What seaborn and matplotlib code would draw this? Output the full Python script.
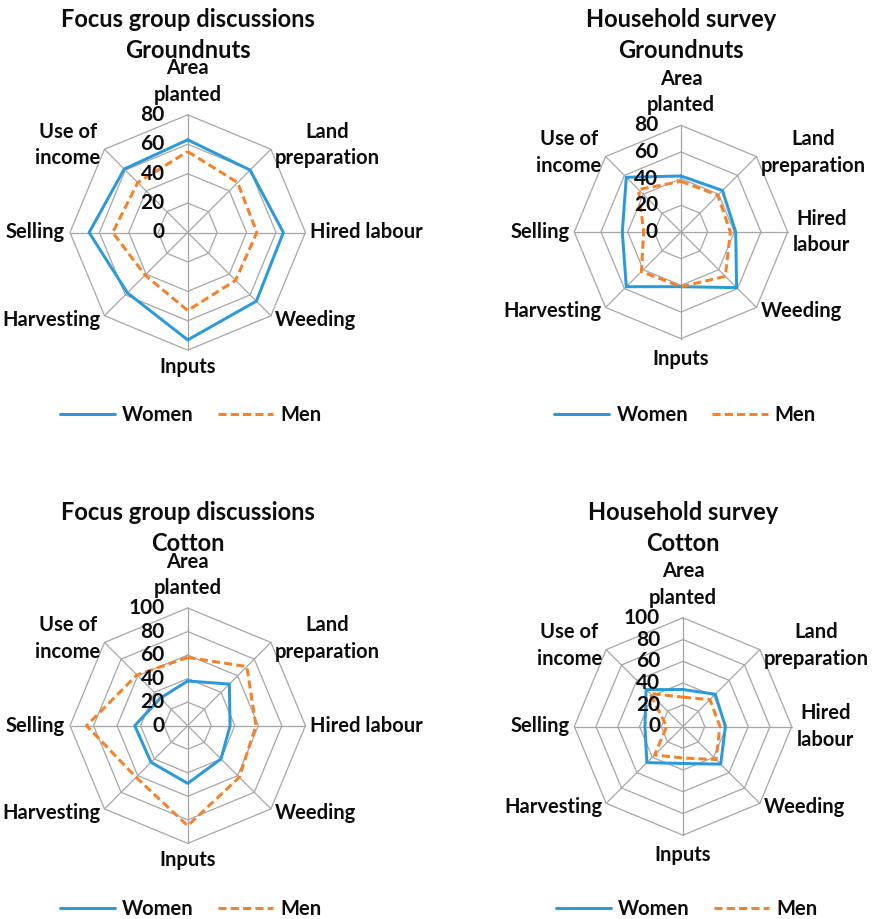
import numpy as np
import pandas as pd
import matplotlib
matplotlib.use("Agg")
import matplotlib.pyplot as plt
import seaborn as sns

# Activity categories (clockwise from the top)
categories_fgd = ["Area\nplanted", "Land\npreparation", "Hired labour", "Weeding",
                  "Inputs", "Harvesting", "Selling", "Use of\nincome"]
categories_hh = ["Area\nplanted", "Land\npreparation", "Hired\nlabour", "Weeding",
                 "Inputs", "Harvesting", "Selling", "Use of\nincome"]

# Share of participation (%) by activity
fgd_groundnut_women = [63, 60, 65, 66, 73, 58, 67, 61]
fgd_groundnut_men = [55, 48, 47, 46, 53, 41, 51, 48]
hh_groundnut_women = [42, 44, 41, 59, 41, 58, 44, 58]
hh_groundnut_men = [38, 39, 37, 47, 41, 42, 28, 45]
fgd_cotton_women = [38, 50, 36, 40, 49, 44, 45, 33]
fgd_cotton_men = [58, 71, 58, 62, 85, 62, 86, 61]
hh_cotton_women = [34, 42, 39, 49, 34, 47, 35, 48]
hh_cotton_men = [27, 35, 34, 43, 29, 37, 15, 43]

ticks_groundnut = [0, 20, 40, 60, 80]
ticks_cotton = [0, 20, 40, 60, 80, 100]

series_names = ["Women", "Men"]

sns.set_theme(style="white")
plt.rcParams["font.family"] = ["Lato", "DejaVu Sans"]
plt.rcParams["font.weight"] = "bold"

W, H = 872, 919
fig = plt.figure(figsize=(W / 100, H / 100), dpi=100)

BLUE = "#2c9ad8"
ORANGE = "#f5822a"
GRID = "#a6a6a6"
TEXT = "#0d0d0d"
LW = 3 * 0.72
LABEL_FS = 14.5
TITLE_FS = 17

n = len(categories_fgd)
theta = np.arange(n) * 2 * np.pi / n
theta_closed = np.append(theta, 2 * np.pi)


def fx(px):
    return px / W


def fy(py):
    return 1 - py / H


def radar(cx, cy, R, title, cats, women, men, ticks, legend_xy, title_y, inputs_gap):
    rmax = ticks[-1]
    ax = fig.add_axes([fx(cx - R), fy(cy + R), 2 * R / W, 2 * R / H], projection="polar")
    ax.set_theta_zero_location("N")
    ax.set_theta_direction(-1)
    ax.set_ylim(0, rmax)
    ax.grid(False)
    ax.spines["polar"].set_visible(False)
    ax.set_xticks([])
    ax.set_yticks([])
    ax.patch.set_alpha(0)

    # polygon rings and spokes
    for lev in ticks[1:]:
        ax.plot(theta_closed, [lev] * (n + 1), color=GRID, lw=0.9, zorder=1, clip_on=False)
    for t in theta:
        ax.plot([t, t], [0, rmax], color=GRID, lw=0.9, zorder=1, clip_on=False)

    df = pd.DataFrame({
        "theta": np.concatenate([theta_closed, theta_closed]),
        "value": women + women[:1] + men + men[:1],
        "group": ["Women"] * (n + 1) + ["Men"] * (n + 1),
    })
    sns.lineplot(data=df, x="theta", y="value", hue="group", style="group",
                 hue_order=series_names, style_order=series_names,
                 palette={"Women": BLUE, "Men": ORANGE},
                 dashes={"Women": "", "Men": (2.7, 1.4)},
                 sort=False, estimator=None, lw=LW, ax=ax, zorder=3, legend=True)
    ax.set_xlabel("")
    ax.set_ylabel("")

    handles, labels = ax.get_legend_handles_labels()
    ax.get_legend().remove()
    for h in handles:
        h.set_linewidth(LW)
    fig.legend(handles, labels, loc="center",
               bbox_to_anchor=(fx(legend_xy[0]), fy(legend_xy[1])),
               ncol=2, frameon=False, fontsize=LABEL_FS, handlelength=2.75,
               handletextpad=0.35, columnspacing=1.2, labelcolor=TEXT)

    # tick labels along the top spoke
    for lev in ticks:
        ax.annotate(str(lev), xy=(0, lev), xytext=(-23, 0), textcoords="offset pixels",
                    ha="right", va="center", fontsize=15, fontweight="bold",
                    color=TEXT, zorder=4)

    # category labels
    specs = [
        ((0, 10), "center", "bottom"),
        ((4, 4), "left", "center"),
        ((5, 0), "left", "center"),
        ((4, -4), "left", "center"),
        ((0, -inputs_gap), "center", "top"),
        ((-4, -4), "right", "center"),
        ((-5, 0), "right", "center"),
        ((-4, 4), "right", "center"),
    ]
    for t, lab, (off, ha, va) in zip(theta, cats, specs):
        ax.annotate(lab, xy=(t, rmax), xytext=off, textcoords="offset pixels",
                    ha=ha, va=va, multialignment="center", fontsize=LABEL_FS,
                    fontweight="bold", color=TEXT, linespacing=1.4,
                    annotation_clip=False)

    fig.text(fx(cx), fy(title_y), title, ha="center", va="center",
             fontsize=TITLE_FS, fontweight="bold", color=TEXT, linespacing=1.4)


radar(187.7, 232.5, 117.7, "Focus group discussions\nGroundnuts", categories_fgd,
      fgd_groundnut_women, fgd_groundnut_men, ticks_groundnut, (190.5, 415), 35, 7)
radar(681.0, 232.0, 106.7, "Household survey\nGroundnuts", categories_hh,
      hh_groundnut_women, hh_groundnut_men, ticks_groundnut, (685, 415), 35, 10)
radar(187.7, 725.7, 117.7, "Focus group discussions\nCotton", categories_fgd,
      fgd_cotton_women, fgd_cotton_men, ticks_cotton, (190.5, 909), 528, 7)
radar(683.0, 726.5, 108.7, "Household survey\nCotton", categories_hh,
      hh_cotton_women, hh_cotton_men, ticks_cotton, (686.5, 909), 528, 10)

fig.savefig("out.png", dpi=100)
